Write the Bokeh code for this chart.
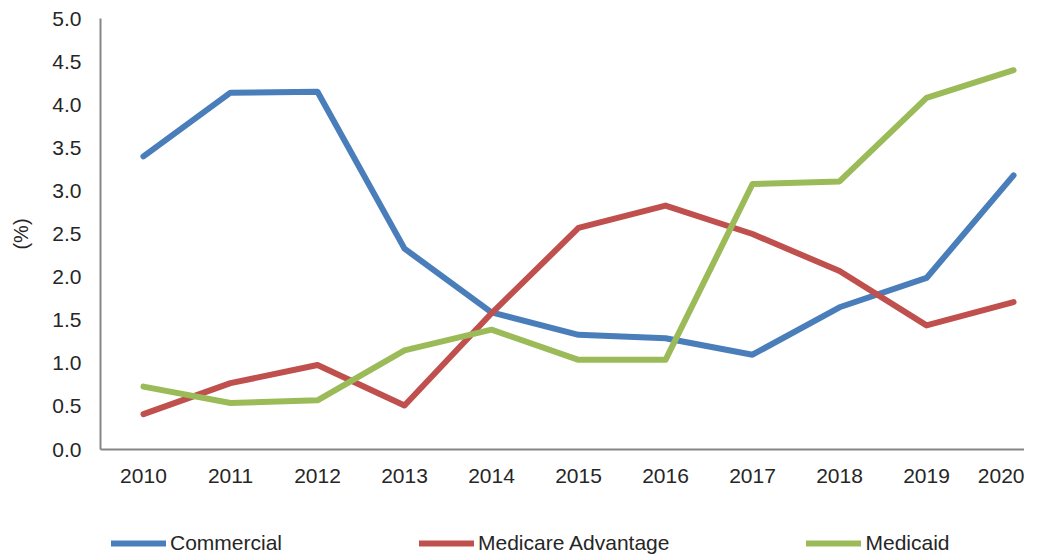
from bokeh.plotting import figure
from bokeh.models import Legend, LegendItem, FixedTicker, Range1d
from bokeh.layouts import column
from bokeh.embed import file_html
from bokeh.resources import INLINE

years = [2010, 2011, 2012, 2013, 2014, 2015, 2016, 2017, 2018, 2019, 2020]
commercial = [3.40, 4.14, 4.15, 2.33, 1.59, 1.33, 1.29, 1.10, 1.65, 1.99, 3.18]
medicare_adv = [0.41, 0.77, 0.98, 0.51, 1.58, 2.57, 2.83, 2.50, 2.07, 1.44, 1.71]
medicaid = [0.73, 0.54, 0.57, 1.15, 1.39, 1.04, 1.04, 3.08, 3.11, 4.08, 4.40]
series_names = ["Commercial", "Medicare Advantage", "Medicaid"]
colors = ["#4A7EBB", "#C0504D", "#9BBB59"]
y_ticks = [0.0, 0.5, 1.0, 1.5, 2.0, 2.5, 3.0, 3.5, 4.0, 4.5, 5.0]

FONT = "Liberation Sans"
TXT = "#262626"
series = [commercial, medicare_adv, medicaid]

p = figure(width=1024, height=495, output_backend="svg", toolbar_location=None,
           x_range=Range1d(2009.506, 2020.126), y_range=Range1d(0, 5),
           min_border_left=100, min_border_right=0, min_border_top=18,
           min_border_bottom=46)
p.outline_line_color = None
p.xgrid.visible = False
p.ygrid.visible = False

for vals, c in zip(series, colors):
    p.line(years, vals, line_color=c, line_width=6, line_cap="round", line_join="round")

for ax in (p.xaxis[0], p.yaxis[0]):
    ax.axis_line_color = "#868686"
    ax.axis_line_width = 2
    ax.major_tick_line_color = None
    ax.minor_tick_line_color = None
    ax.major_tick_out = 0
    ax.major_tick_in = 0
    ax.minor_tick_out = 0
    ax.minor_tick_in = 0
    ax.major_label_text_font = FONT
    ax.major_label_text_font_size = "21px"
    ax.major_label_text_color = TXT

p.xaxis[0].ticker = FixedTicker(ticks=years)
p.xaxis[0].major_label_standoff = 19
p.yaxis[0].ticker = FixedTicker(ticks=y_ticks)
p.yaxis[0].major_label_overrides = {t: f"{t:.1f}" for t in y_ticks}
p.yaxis[0].major_label_standoff = 19
p.yaxis[0].axis_label = "(%)"
p.yaxis[0].axis_label_text_font = FONT
p.yaxis[0].axis_label_text_font_size = "20px"
p.yaxis[0].axis_label_text_font_style = "normal"
p.yaxis[0].axis_label_text_color = TXT
p.yaxis[0].axis_label_standoff = 17

# legend strip below the chart (its lines lie outside its view range)
pl = figure(width=1024, height=60, output_backend="svg", toolbar_location=None,
            x_range=Range1d(0, 1), y_range=Range1d(0, 1),
            x_axis_type=None, y_axis_type=None,
            min_border_left=0, min_border_right=0, min_border_top=0, min_border_bottom=0)
pl.outline_line_color = None
pl.xgrid.visible = False
pl.ygrid.visible = False
legend_lines = [pl.line(years, vals, line_color=c, line_width=6, line_cap="round")
                for vals, c in zip(series, colors)]

legend = Legend(
    items=[LegendItem(label=n, renderers=[r]) for n, r in zip(series_names, legend_lines)],
    orientation="horizontal", location=(11, 0),
    label_text_font=FONT, label_text_font_size="21px", label_text_color=TXT,
    glyph_width=55, glyph_height=24, label_height=24, label_standoff=4,
    spacing=137, padding=0, margin=0,
    background_fill_alpha=0, border_line_color=None,
)
pl.add_layout(legend, "center")

layout = column(p, pl, spacing=0)
open("out.html", "w").write(file_html(layout, INLINE))
